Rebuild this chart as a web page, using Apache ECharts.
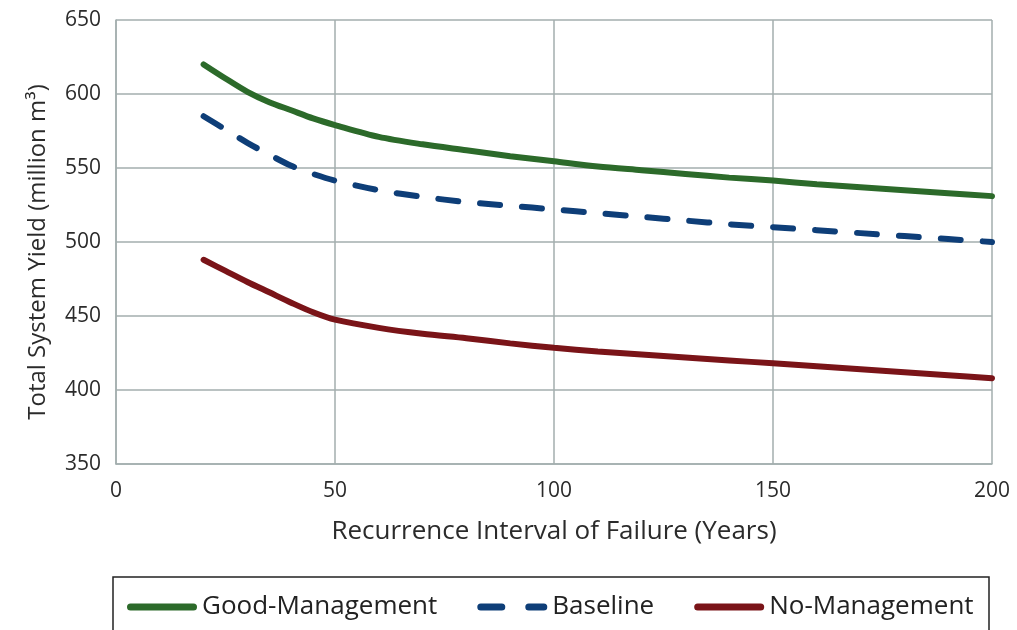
<!DOCTYPE html>
<html>
<head>
<meta charset="utf-8">
<script src="https://cdn.jsdelivr.net/npm/echarts@6/dist/echarts.min.js"></script>
<style>html,body{margin:0;padding:0;background:#fff;}#c{width:1017px;height:630px;}</style>
</head>
<body>
<div id="c"></div>
<script>
const years = [20,25,30,35,40,45,50,60,70,80,90,100,110,120,130,140,150,160,170,180,190,200];
const goodManagement = [620,610.5,601.5,594.5,589,583.5,579,571,566,562,558,554.5,551,548.5,546,543.5,541.5,539,537,535,533,531];
const baseline = [585,576,567,559,551.5,546,541.5,535,530.5,527,524.5,522,519.5,517,514.5,512,510,508,506,504,502,500];
const noManagement = [488,480.5,473,466,459,452.5,447.5,442,438,435,431.5,428.5,426,424,422,420,418,416,414,412,410,408];
const seriesNames = ['Good-Management','Baseline','No-Management'];
const xTitle = 'Recurrence Interval of Failure (Years)';
const yTitle = 'Total System Yield (million m³)';

const pair = arr => years.map((x,i)=>[x,arr[i]]);
const font = '"Open Sans", sans-serif';
const grid = '#a3aeae';
const solidIcon = 'path://M3.5,0 h63 a3.5,3.5 0 0 1 0,7 h-63 a3.5,3.5 0 0 1 0,-7 z';
const dashIcon = 'path://M3.5,0 h21 a3.5,3.5 0 0 1 0,7 h-21 a3.5,3.5 0 0 1 0,-7 z M51.5,0 h15 a3.5,3.5 0 0 1 0,7 h-15 a3.5,3.5 0 0 1 0,-7 z';
const chart = echarts.init(document.getElementById('c'));
chart.setOption({
  animation:false,
  backgroundColor:'#fff',
  grid:{left:116,right:25,top:20,bottom:166,containLabel:false},
  xAxis:{type:'value',min:0,max:200,interval:50,
    name:xTitle,nameLocation:'middle',nameGap:55,
    nameTextStyle:{fontFamily:font,fontSize:26,color:'#2b2b2b'},
    axisLine:{show:true,lineStyle:{color:grid,width:1.5}},
    axisTick:{show:false},
    axisLabel:{fontFamily:font,fontSize:21,color:'#2b2b2b',margin:17},
    splitLine:{show:true,lineStyle:{color:grid,width:1.5}}},
  yAxis:{type:'value',min:350,max:650,interval:50,
    name:yTitle,nameLocation:'middle',nameGap:66,
    nameTextStyle:{fontFamily:font,fontSize:24,color:'#2b2b2b',padding:[0,20,0,0]},
    axisLine:{show:true,lineStyle:{color:grid,width:1.5}},
    axisTick:{show:false},
    axisLabel:{fontFamily:font,fontSize:21,color:'#2b2b2b',margin:15},
    splitLine:{show:true,lineStyle:{color:grid,width:1.5}}},
  legend:{left:122,top:589,itemWidth:70,itemHeight:7,itemGap:40,
    textStyle:{fontFamily:font,fontSize:26,color:'#222'},
    data:[{name:seriesNames[0],icon:solidIcon},{name:seriesNames[1],icon:dashIcon},{name:seriesNames[2],icon:solidIcon}]},
  graphic:[{type:'rect',shape:{x:113,y:577,width:876,height:70},
    style:{fill:'none',stroke:'#222',lineWidth:1.5},silent:true}],
  series:[
    {name:seriesNames[0],type:'line',data:pair(goodManagement),smooth:0.3,showSymbol:false,symbol:'none',
     lineStyle:{color:'#2c6a2a',width:6,cap:'round'},itemStyle:{color:'#2c6a2a'}},
    {name:seriesNames[1],type:'line',data:pair(baseline),smooth:0.3,showSymbol:false,symbol:'none',
     lineStyle:{color:'#0e3e78',width:6,cap:'round',type:[20,22]},itemStyle:{color:'#0e3e78'}},
    {name:seriesNames[2],type:'line',data:pair(noManagement),smooth:0.3,showSymbol:false,symbol:'none',
     lineStyle:{color:'#7a1418',width:6,cap:'round'},itemStyle:{color:'#7a1418'}}
  ]
});
</script>
</body>
</html>
